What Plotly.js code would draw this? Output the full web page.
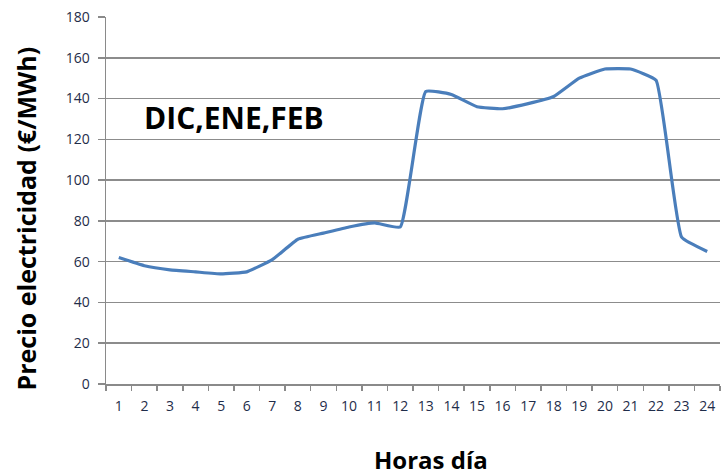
<!DOCTYPE html>
<html>
<head>
<meta charset="utf-8">
<script src="https://cdn.plot.ly/plotly-3.0.1.min.js"></script>
<style>html,body{margin:0;padding:0;background:#fff;}#chart{width:722px;height:476px;}</style>
</head>
<body>
<div id="chart"></div>
<script>
const hours = ["1","2","3","4","5","6","7","8","9","10","11","12","13","14","15","16","17","18","19","20","21","22","23","24"];
const prices = [62, 58, 56, 55, 54, 55, 61, 71, 74, 77, 79, 77, 143.5, 142, 136, 135, 137.5, 141, 150, 154.5, 154.5, 149, 72, 65];
const yTicks = [0, 20, 40, 60, 80, 100, 120, 140, 160, 180];
const seasonLabel = "DIC,ENE,FEB";
const xTitle = "Horas día";
const yTitle = "Precio electricidad (€/MWh)";

const trace = {
  x: hours,
  y: prices,
  type: 'scatter',
  mode: 'lines',
  line: {color: '#4a7ebb', width: 3.2, shape: 'spline', smoothing: 0.35},
  hoverinfo: 'x+y'
};

const titleFont = (s) => ({size: s, color: '#000', family: 'Open Sans, sans-serif', weight: 'bold'});

const layout = {
  width: 722, height: 476,
  margin: {l: 106, r: 2, t: 17, b: 92},
  paper_bgcolor: '#fff', plot_bgcolor: '#fff',
  showlegend: false,
  font: {family: 'Open Sans, sans-serif', color: '#1f2d4a'},
  xaxis: {
    type: 'category',
    range: [-0.5, 23.5],
    tickson: 'boundaries',
    tickangle: 0,
    ticks: 'outside', ticklen: 5, tickcolor: '#8a8a8a', tickwidth: 1.5,
    showline: true, linecolor: '#8a8a8a', linewidth: 1.5,
    showgrid: false,
    tickfont: {size: 14, color: '#1f2d4a'},
    ticklabelstandoff: 9,
    automargin: false,
    fixedrange: true
  },
  yaxis: {
    range: [0, 180],
    tickvals: yTicks,
    ticks: 'outside', ticklen: 7, tickcolor: '#8a8a8a', tickwidth: 1.5,
    showline: true, linecolor: '#8a8a8a', linewidth: 1.5,
    showgrid: true, gridcolor: '#8c8c8c', gridwidth: 1.5,
    zeroline: false,
    tickfont: {size: 14, color: '#1f2d4a'},
    ticklabelstandoff: 5,
    automargin: false,
    fixedrange: true
  },
  annotations: [
    {
      text: seasonLabel,
      xref: 'paper', yref: 'paper',
      x: 0.208, y: 0.726,
      xanchor: 'center', yanchor: 'middle',
      showarrow: false,
      font: titleFont(30)
    },
    {
      text: xTitle,
      xref: 'paper', yref: 'paper',
      x: 0.529, y: -0.205,
      xanchor: 'center', yanchor: 'middle',
      showarrow: false,
      font: titleFont(24)
    },
    {
      text: yTitle,
      xref: 'paper', yref: 'paper',
      x: -0.1287, y: 0.451,
      xanchor: 'center', yanchor: 'middle',
      textangle: -90,
      showarrow: false,
      font: titleFont(25)
    }
  ]
};

Plotly.newPlot('chart', [trace], layout, {displayModeBar: false, staticPlot: true});
</script>
</body>
</html>
